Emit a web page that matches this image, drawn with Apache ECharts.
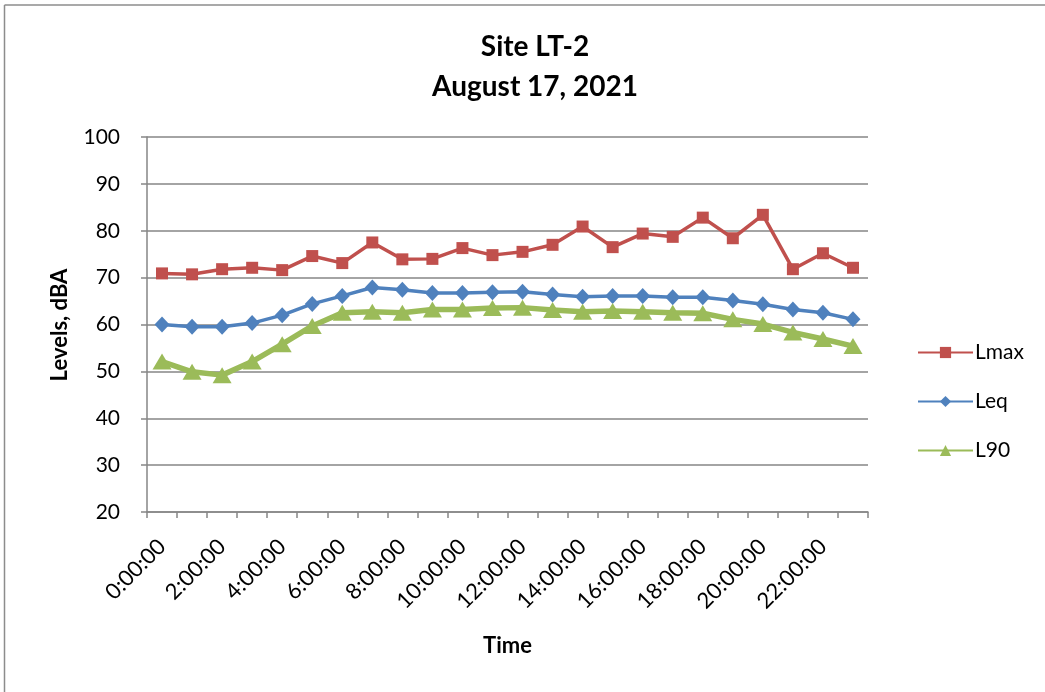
<!DOCTYPE html>
<html>
<head>
<meta charset="utf-8">
<script src="https://cdn.jsdelivr.net/npm/echarts@6/dist/echarts.min.js"></script>
<style>html,body{margin:0;padding:0;background:#fff;}#c{width:1045px;height:692px;}</style>
</head>
<body>
<div id="c"></div>
<script>
const categories = ["0:00:00","1:00:00","2:00:00","3:00:00","4:00:00","5:00:00","6:00:00","7:00:00","8:00:00","9:00:00","10:00:00","11:00:00","12:00:00","13:00:00","14:00:00","15:00:00","16:00:00","17:00:00","18:00:00","19:00:00","20:00:00","21:00:00","22:00:00","23:00:00"];
const lmax = [70.9,70.7,71.8,72.1,71.6,74.6,73.1,77.5,73.9,74.0,76.3,74.8,75.5,77.0,80.9,76.5,79.4,78.7,82.8,78.4,83.4,71.8,75.2,72.1];
const leq = [60.0,59.5,59.5,60.3,62.0,64.4,66.1,67.9,67.4,66.7,66.7,66.9,67.0,66.4,65.9,66.1,66.1,65.8,65.8,65.1,64.3,63.2,62.5,61.1];
const l90 = [52.1,49.9,49.2,52.1,55.8,59.7,62.5,62.7,62.5,63.2,63.2,63.5,63.6,63.1,62.7,62.9,62.7,62.5,62.4,61.1,60.1,58.3,56.9,55.4];
const yTicks = {min:20, max:100, interval:10};
const yAxisTitle = 'Levels, dBA';

const font = 'Lato, "Open Sans", sans-serif';
const chart = echarts.init(document.getElementById('c'), null, {renderer:'canvas'});
chart.setOption({
  animation:false,
  backgroundColor:'#fff',
  textStyle:{fontFamily:font},
  title:{
    text:'Site LT-2\nAugust 17, 2021',
    left:530, top:22, textAlign:'center',
    textStyle:{fontFamily:font, fontSize:28, fontWeight:'bold', color:'#000', lineHeight:40}
  },
  graphic:[
    {type:'line', shape:{x1:4.5,y1:5,x2:4.5,y2:692}, style:{stroke:'#8c8c8c', lineWidth:1.5}},
    {type:'line', shape:{x1:4.5,y1:5,x2:1045,y2:5}, style:{stroke:'#8c8c8c', lineWidth:1.5}},
    {type:'text', x:60, y:325, rotation:Math.PI/2,
     style:{text:yAxisTitle, fill:'#000', font:'bold 22px ' + font, align:'center', verticalAlign:'middle'}}
  ],
  legend:{
    orient:'vertical', left:912, top:337,
    itemWidth:55, itemHeight:14, itemGap:28,
    textStyle:{fontFamily:font, fontSize:21, lineHeight:20, color:'#000', padding:[0,0,0,-3]},
    data:['Lmax','Leq','L90']
  },
  grid:{left:147, right:177, top:137, bottom:180},
  xAxis:{
    type:'category', data:categories, boundaryGap:true,
    name:'Time', nameLocation:'middle', nameGap:123,
    nameTextStyle:{fontFamily:font, fontSize:22, fontWeight:'bold', color:'#000'},
    axisLine:{lineStyle:{color:'#868686', width:1.5}},
    axisTick:{show:true, alignWithLabel:false, interval:0, length:6, lineStyle:{color:'#868686', width:1.5}},
    axisLabel:{interval:1, rotate:45, fontFamily:font, fontSize:22, color:'#000', margin:31}
  },
  yAxis:{
    type:'value', min:yTicks.min, max:yTicks.max, interval:yTicks.interval,
    axisLine:{show:true, lineStyle:{color:'#868686', width:1.5}},
    axisTick:{show:true, length:6, lineStyle:{color:'#868686', width:1.5}},
    axisLabel:{fontFamily:font, fontSize:21, color:'#000', margin:27},
    splitLine:{lineStyle:{color:'#868686', width:1.5}}
  },
  series:[
    {name:'Lmax', type:'line', data:lmax, color:'#C0504D', symbol:'rect', symbolSize:12,
     lineStyle:{width:3.5, color:'#C0504D'}, itemStyle:{color:'#C0504D'}},
    {name:'Leq', type:'line', data:leq, color:'#4F81BD', symbol:'diamond', symbolSize:[15,16],
     lineStyle:{width:3.5, color:'#4F81BD'}, itemStyle:{color:'#4F81BD'}},
    {name:'L90', type:'line', data:l90, color:'#9BBB59', symbol:'triangle', symbolSize:[19,16],
     lineStyle:{width:5.5, color:'#9BBB59'}, itemStyle:{color:'#9BBB59'}}
  ]
});
</script>
</body>
</html>
